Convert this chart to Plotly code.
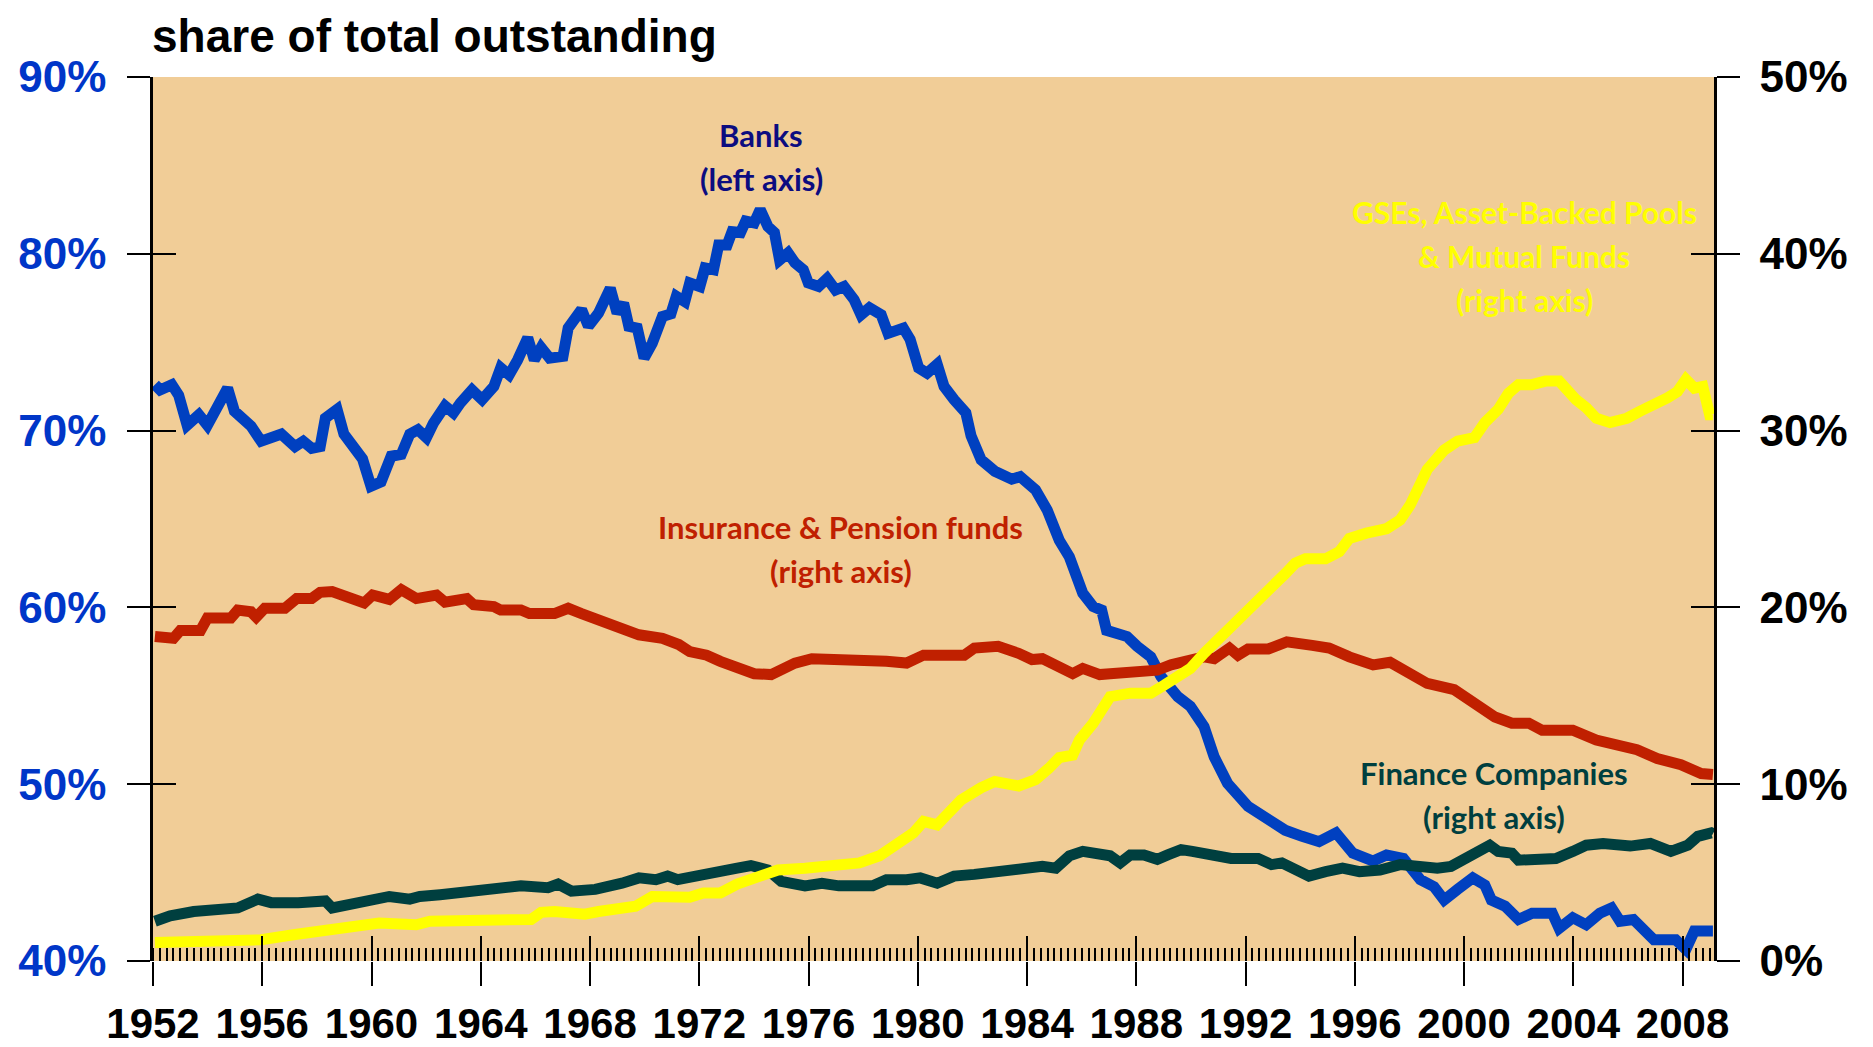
import plotly.graph_objects as go

# ---------------- data ----------------
banks_years = [1952.07, 1952.26, 1952.69, 1952.94, 1953.25, 1953.68, 1953.99, 1954.30, 1954.73, 1954.98,
               1955.59, 1955.96, 1956.70, 1957.20, 1957.50, 1957.81, 1958.12, 1958.31, 1958.74, 1958.99,
               1959.36, 1959.67, 1959.98, 1960.35, 1960.72, 1961.09, 1961.40, 1961.70, 1962.01, 1962.26,
               1962.69, 1963.00, 1963.25, 1963.68, 1964.05, 1964.48, 1964.73, 1965.04, 1965.35, 1965.72,
               1965.96, 1966.21, 1966.52, 1967.01, 1967.20, 1967.69, 1967.94, 1968.31, 1968.74, 1968.99,
               1969.23, 1969.42, 1969.73, 1969.98, 1970.28, 1970.65, 1970.96, 1971.16, 1971.47, 1971.65,
               1972.02, 1972.21, 1972.52, 1972.71, 1973.02, 1973.20, 1973.51, 1973.70, 1974.01, 1974.23,
               1974.51, 1974.75, 1974.94, 1975.25, 1975.50, 1975.81, 1975.99, 1976.37, 1976.68, 1976.99,
               1977.30, 1977.67, 1977.92, 1978.23, 1978.66, 1978.91, 1979.47, 1979.72, 1980.03, 1980.34,
               1980.71, 1980.96, 1981.33, 1981.76, 1981.95, 1982.32, 1982.82, 1983.44, 1983.75, 1984.31,
               1984.74, 1985.18, 1985.55, 1986.04, 1986.42, 1986.73, 1986.91, 1987.66, 1988.03, 1988.53,
               1988.90, 1989.52, 1989.98, 1990.48, 1990.85, 1991.34, 1992.09, 1992.83, 1993.45, 1994.07,
               1994.69, 1995.31, 1995.93, 1996.67, 1997.16, 1997.78, 1998.40, 1998.90, 1999.27, 1999.76,
               2000.32, 2000.76, 2001.00, 2001.50, 2001.99, 2002.49, 2003.23, 2003.48, 2003.98, 2004.47,
               2004.97, 2005.40, 2005.71, 2006.20, 2006.64, 2006.95, 2007.75, 2008.12, 2008.43, 2009.11]
banks_share = [72.6, 72.3, 72.6, 72.0, 70.3, 70.9, 70.3, 71.3, 72.4, 71.1,
               70.25, 69.4, 69.8, 69.1, 69.4, 69.0, 69.1, 70.7, 71.2, 69.8,
               69.1, 68.4, 66.85, 67.1, 68.55, 68.65, 69.8, 70.05, 69.6, 70.4,
               71.4, 71.0, 71.55, 72.3, 71.75, 72.5, 73.55, 73.15, 74.0, 75.25,
               74.0, 74.7, 74.1, 74.2, 75.8, 76.85, 75.9, 76.65, 78.05, 76.65,
               77.2, 75.9, 75.8, 74.1, 74.95, 76.45, 76.6, 77.6, 77.3, 78.35,
               78.15, 79.2, 79.1, 80.5, 80.5, 81.25, 81.2, 81.85, 81.75, 82.5,
               81.55, 81.2, 79.65, 80.05, 79.5, 79.1, 78.35, 78.15, 78.6, 77.95,
               78.15, 77.4, 76.55, 76.95, 76.55, 75.5, 75.8, 75.15, 73.55, 73.25,
               73.75, 72.5, 71.75, 71.0, 69.7, 68.35, 67.7, 67.25, 67.4, 66.65,
               65.5, 63.8, 62.85, 60.8, 60.05, 59.85, 58.7, 58.35, 57.8, 57.2,
               56.1, 54.95, 54.4, 53.25, 51.55, 50.05, 48.75, 48.0, 47.4, 47.05,
               46.75, 47.25, 46.1, 45.65, 46.0, 45.8, 44.6, 44.2, 43.45, 44.05,
               44.7, 44.3, 43.45, 43.1, 42.35, 42.7, 42.7, 41.85, 42.45, 42.05,
               42.7, 43.0, 42.25, 42.35, 41.75, 41.2, 41.2, 40.65, 41.7, 41.7]

ins_years = [1952.07, 1952.75, 1953.00, 1953.74, 1953.99, 1954.85, 1955.10, 1955.59, 1955.78, 1956.09,
             1956.83, 1957.26, 1957.81, 1958.12, 1958.56, 1958.93, 1959.42, 1959.73, 1960.04, 1960.65,
             1961.09, 1961.64, 1962.38, 1962.69, 1963.49, 1963.74, 1964.48, 1964.73, 1965.47, 1965.78,
             1966.70, 1967.20, 1967.69, 1968.56, 1969.42, 1969.79, 1970.65, 1971.25, 1971.65, 1972.27,
             1972.77, 1973.39, 1974.01, 1974.63, 1975.00, 1975.50, 1976.12, 1977.11, 1978.10, 1978.85,
             1979.59, 1980.21, 1981.08, 1981.70, 1982.07, 1982.94, 1983.69, 1984.18, 1984.56, 1985.18,
             1985.67, 1986.04, 1986.66, 1987.04, 1988.28, 1988.77, 1989.27, 1989.77, 1990.48, 1990.85,
             1991.41, 1991.72, 1992.09, 1992.83, 1993.51, 1994.44, 1995.06, 1995.80, 1996.67, 1997.29,
             1997.91, 1998.65, 1999.64, 2000.51, 2001.13, 2001.75, 2002.37, 2002.86, 2003.98, 2004.84,
             2005.46, 2006.33, 2007.07, 2007.94, 2008.68, 2009.11]
ins_share = [18.35, 18.25, 18.7, 18.7, 19.4, 19.4, 19.85, 19.75, 19.45, 19.95,
             19.95, 20.5, 20.5, 20.85, 20.9, 20.7, 20.4, 20.25, 20.7, 20.45,
             21.0, 20.5, 20.7, 20.3, 20.5, 20.15, 20.05, 19.85, 19.85, 19.65,
             19.65, 19.95, 19.65, 19.1, 18.65, 18.45, 18.25, 17.9, 17.5, 17.3,
             16.95, 16.55, 16.25, 16.2, 16.55, 16.85, 17.1, 17.1, 17.1, 16.95,
             16.85, 17.3, 17.3, 17.3, 17.7, 17.8, 17.4, 17.05, 17.1, 16.65,
             16.25, 16.55, 16.2, 16.25, 16.3, 16.45, 16.75, 17.0, 17.2, 17.1,
             17.7, 17.3, 17.65, 17.65, 18.05, 17.85, 17.7, 17.2, 16.75, 16.9,
             16.35, 15.7, 15.35, 14.4, 13.8, 13.45, 13.45, 13.05, 13.05, 12.5,
             12.3, 11.95, 11.45, 11.1, 10.6, 10.55]

gse_years = [1952.07, 1955.84, 1955.96, 1957.20, 1959.30, 1960.28, 1961.64, 1962.14, 1965.84, 1966.21,
             1966.70, 1967.32, 1967.81, 1968.31, 1969.17, 1969.67, 1970.28, 1971.21, 1971.65, 1972.15,
             1972.77, 1973.39, 1974.13, 1974.88, 1975.87, 1977.11, 1977.86, 1978.60, 1979.34, 1979.84,
             1980.21, 1980.71, 1981.08, 1981.58, 1982.32, 1982.82, 1983.69, 1984.31, 1984.80, 1985.18,
             1985.67, 1985.92, 1986.42, 1986.79, 1987.04, 1987.78, 1988.53, 1989.02, 1989.52, 1989.98,
             1990.48, 1990.97, 1991.47, 1991.96, 1992.46, 1992.95, 1993.45, 1993.82, 1994.19, 1994.93,
             1995.43, 1995.80, 1996.42, 1997.16, 1997.66, 1998.03, 1998.65, 1999.27, 1999.76, 2000.38,
             2000.76, 2001.25, 2001.62, 2001.99, 2002.49, 2002.98, 2003.48, 2003.73, 2004.10, 2004.47,
             2004.84, 2005.34, 2005.96, 2006.45, 2006.95, 2007.44, 2007.81, 2008.12, 2008.43, 2008.74,
             2008.99, 2009.11]
gse_share = [1.05, 1.1, 1.2, 1.5, 1.9, 2.15, 2.05, 2.25, 2.35, 2.75,
             2.8, 2.65, 2.65, 2.8, 2.9, 3.1, 3.65, 3.6, 3.6, 3.85,
             3.85, 4.35, 4.8, 5.15, 5.25, 5.35, 5.55, 5.95, 6.7, 7.25,
             7.9, 7.7, 8.3, 9.1, 9.8, 10.15, 9.9, 10.25, 10.9, 11.5,
             11.65, 12.5, 13.45, 14.2, 14.95, 15.15, 15.15, 15.6, 16.1, 16.55,
             17.4, 18.15, 18.9, 19.85, 20.6, 21.15, 21.9, 22.5, 22.75, 22.75,
             23.15, 23.9, 24.2, 24.45, 24.95, 25.8, 27.8, 28.9, 29.4, 29.6,
             30.45, 31.2, 32.1, 32.6, 32.6, 32.8, 32.8, 32.3, 31.75, 31.3,
             30.7, 30.45, 30.7, 31.1, 31.4, 31.85, 32.2, 32.9, 32.4, 32.5,
             30.9, 30.9]

fin_years = [1952.07, 1952.63, 1953.49, 1955.10, 1955.84, 1956.33, 1957.32, 1958.31, 1958.56, 1959.30,
             1960.04, 1960.65, 1961.40, 1961.77, 1962.51, 1963.74, 1964.36, 1965.47, 1966.46, 1966.83,
             1967.32, 1968.19, 1969.17, 1969.79, 1970.41, 1970.84, 1971.21, 1971.65, 1972.52, 1973.39,
             1973.89, 1974.51, 1975.00, 1975.87, 1976.49, 1977.11, 1978.35, 1978.85, 1979.59, 1980.09,
             1980.71, 1981.33, 1982.07, 1982.82, 1983.81, 1984.56, 1985.05, 1985.55, 1986.04, 1986.54,
             1987.04, 1987.41, 1987.78, 1988.28, 1988.77, 1989.15, 1989.64, 1990.05, 1990.72, 1991.47,
             1992.46, 1992.95, 1993.33, 1993.70, 1994.32, 1994.93, 1995.55, 1996.17, 1996.92, 1997.66,
             1998.40, 1999.02, 1999.52, 2000.01, 2000.51, 2000.94, 2001.25, 2001.75, 2001.99, 2002.61,
             2003.36, 2003.98, 2004.47, 2005.09, 2005.59, 2006.08, 2006.82, 2007.57, 2008.19, 2008.56,
             2009.05, 2009.11]
fin_share = [2.25, 2.55, 2.8, 3.0, 3.5, 3.3, 3.3, 3.4, 3.0, 3.2,
             3.55, 3.65, 3.5, 3.65, 3.75, 3.95, 4.15, 4.25, 4.15, 4.35,
             3.95, 4.05, 4.4, 4.7, 4.6, 4.8, 4.6, 4.7, 5.0, 5.25,
             5.4, 5.15, 4.5, 4.25, 4.4, 4.25, 4.25, 4.6, 4.6, 4.7,
             4.4, 4.8, 4.9, 5.0, 5.25, 5.35, 5.25, 5.95, 6.2, 6.1,
             5.95, 5.55, 6.0, 6.0, 5.75, 6.0, 6.3, 6.2, 6.0, 5.8,
             5.8, 5.45, 5.55, 5.25, 4.8, 5.05, 5.25, 5.05, 5.15, 5.45,
             5.35, 5.25, 5.35, 5.8, 6.2, 6.55, 6.2, 6.1, 5.7, 5.8,
             5.8, 6.2, 6.55, 6.65, 6.5, 6.5, 6.65, 6.2, 6.55, 7.05,
             7.25, 7.2]

x_range = [1952, 2009.15]
left_range = [40, 90]
right_range = [0, 50]

# ---------------- styles ----------------
BLUE = "#0040C0"
RED = "#C02000"
YELLOW = "#FFFF00"
TEAL = "#003F3F"
NAVY = "#0C0C80"
BG = "#F1CD97"
AXFONT = "Liberation Sans, Arial, sans-serif"
LBLFONT = "Lato, Carlito, Calibri, Open Sans, sans-serif"
LW = 11
LINE_GAP = 44  # px between annotation lines

# page has an 8px body margin, so the figure is offset by 8px inside the window
FIG_W, FIG_H = 1857, 1039

fig = go.Figure()
fig.add_trace(go.Scatter(x=fin_years, y=fin_share, yaxis="y2", mode="lines",
                         line=dict(color=TEAL, width=LW), name="Finance Companies"))
fig.add_trace(go.Scatter(x=ins_years, y=ins_share, yaxis="y2", mode="lines",
                         line=dict(color=RED, width=LW), name="Insurance & Pension funds"))
fig.add_trace(go.Scatter(x=gse_years, y=gse_share, yaxis="y2", mode="lines",
                         line=dict(color=YELLOW, width=LW), name="GSEs"))
fig.add_trace(go.Scatter(x=banks_years, y=banks_share, yaxis="y", mode="lines",
                         line=dict(color=BLUE, width=LW), name="Banks"))
# helper (empty) traces so the overlay tick axes get drawn
fig.add_trace(go.Scatter(x=[None], y=[None], xaxis="x2", yaxis="y3", mode="lines", hoverinfo="skip"))
fig.add_trace(go.Scatter(x=[None], y=[None], xaxis="x2", yaxis="y4", mode="lines", hoverinfo="skip"))

tickstyle = dict(tickcolor="black", tickwidth=1.5, showgrid=False, zeroline=False, automargin=False)

fig.update_layout(
    width=FIG_W, height=FIG_H,
    margin=dict(l=145, r=151, t=69, b=85.5, autoexpand=False),
    paper_bgcolor="white", plot_bgcolor=BG,
    showlegend=False,
    title=dict(text="<b>share of total outstanding</b>", x=144 / FIG_W, xanchor="left", xref="container",
               y=1 - 28 / FIG_H, yanchor="middle", yref="container",
               font=dict(family=AXFONT, size=46, color="black")),
    xaxis=dict(range=x_range, tickmode="linear", tick0=1952, dtick=4, tickformat="d", tickangle=0,
               ticks="outside", ticklen=24, showline=False,
               tickfont=dict(family=AXFONT, size=42, color="black", weight="bold"),
               ticklabelstandoff=2,
               minor=dict(ticks="inside", ticklen=13, tickwidth=1.5, tickcolor="black",
                          tickmode="linear", tick0=1952, dtick=0.25, showgrid=False),
               **tickstyle),
    xaxis2=dict(range=x_range, overlaying="x", anchor="y3", side="bottom", tickmode="linear",
                tick0=1952, dtick=4, ticks="inside", ticklen=25, showticklabels=False,
                showline=False, **tickstyle),
    yaxis=dict(range=left_range, tickmode="linear", tick0=40, dtick=10, ticksuffix="%",
               ticks="outside", ticklen=23, showline=True, linecolor="black", linewidth=2.5,
               tickfont=dict(family=AXFONT, size=44, color="#0036C8", weight="bold"),
               ticklabelstandoff=12, **tickstyle),
    yaxis2=dict(range=right_range, overlaying="y", side="right", anchor="x", tickmode="linear",
                tick0=0, dtick=10, ticksuffix="%", ticks="outside", ticklen=23, showline=True,
                linecolor="black", linewidth=2.5,
                tickfont=dict(family=AXFONT, size=44, color="black", weight="bold"),
                ticklabelstandoff=11, **tickstyle),
    yaxis3=dict(range=left_range, overlaying="y", side="left", anchor="x2", tickmode="linear",
                tick0=40, dtick=10, ticks="inside", ticklen=23, showticklabels=False,
                showline=False, **tickstyle),
    yaxis4=dict(range=right_range, overlaying="y", side="right", anchor="x2", tickmode="linear",
                tick0=0, dtick=10, ticks="inside", ticklen=23, showticklabels=False,
                showline=False, **tickstyle),
)


def add_label(x, y, yref, lines, color, size=31):
    n = len(lines)
    for i, line in enumerate(lines):
        shift = ((n - 1) / 2 - i) * LINE_GAP
        fig.add_annotation(x=x, y=y, xref="x", yref=yref, yshift=shift, showarrow=False,
                           text="<b>" + line + "</b>",
                           font=dict(family=LBLFONT, size=size, color=color))


add_label(1974.27, 85.5, "y", ["Banks", "(left axis)"], NAVY)
add_label(1977.17, 23.3, "y2", ["Insurance & Pension funds", "(right axis)"], RED)
add_label(2002.2, 39.9, "y2", ["GSEs, Asset-Backed Pools", "& Mutual Funds", "(right axis)"], YELLOW, 30)
add_label(2001.1, 9.4, "y2", ["Finance Companies", "(right axis)"], TEAL)

fig.write_html("out.html")
